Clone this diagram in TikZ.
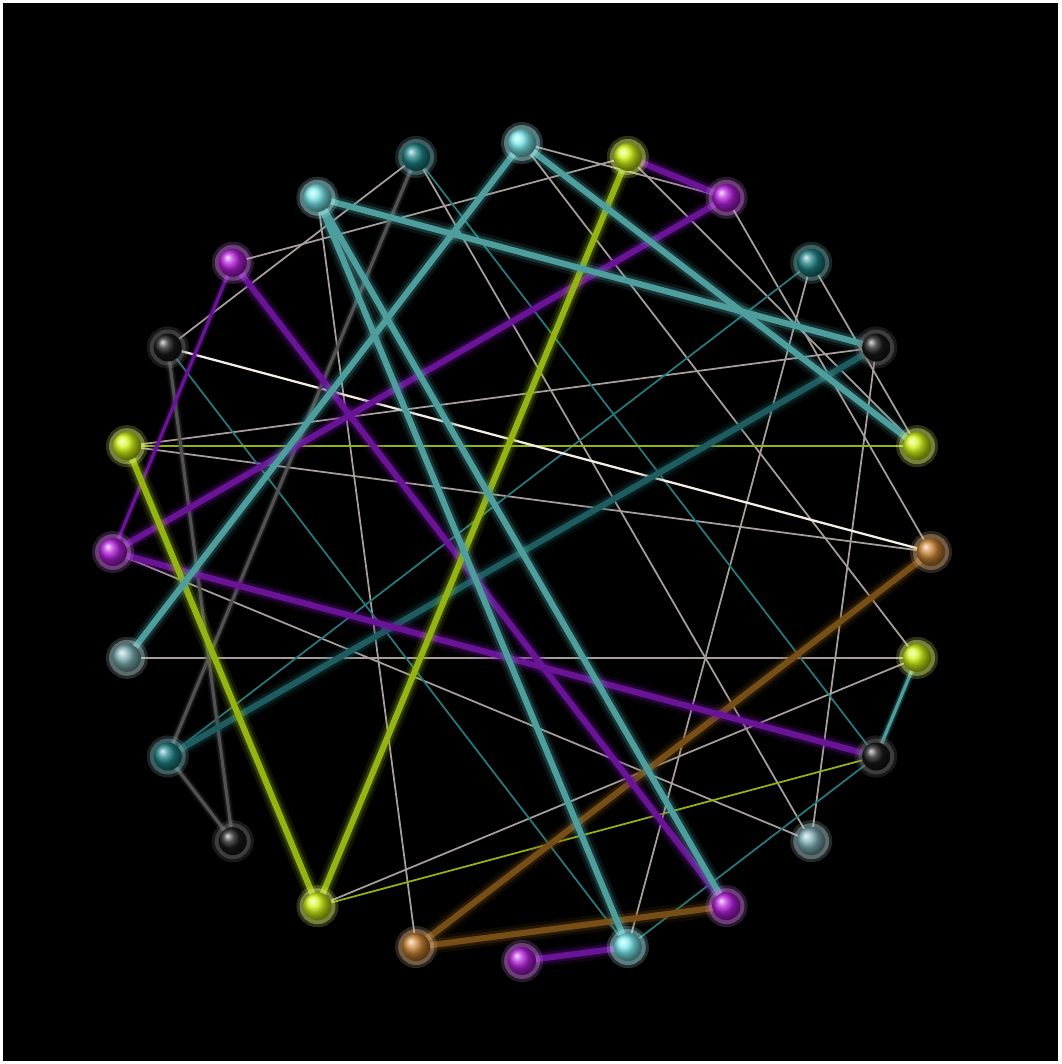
\documentclass[tikz,border=0pt]{standalone}
\usepackage{tikz}
\usetikzlibrary{arrows.meta}
\definecolor{ballcyan}{RGB}{120,232,236}
\definecolor{ballyellow}{RGB}{210,245,20}
\definecolor{ballpurple}{RGB}{180,30,220}
\definecolor{ballteal}{RGB}{30,130,135}
\definecolor{ballorange}{RGB}{200,130,50}
\definecolor{ballsteel}{RGB}{125,175,180}
\definecolor{ballblack}{RGB}{25,25,25}
\definecolor{linepurple}{RGB}{105,20,150}
\definecolor{linecyan}{RGB}{78,158,158}
\definecolor{lineteal}{RGB}{30,92,95}
\definecolor{lineyellow}{RGB}{148,180,18}
\definecolor{lineorange}{RGB}{118,78,22}
\definecolor{linegray}{RGB}{168,158,158}
\definecolor{linedim}{RGB}{82,82,82}
\definecolor{linethin}{RGB}{36,122,125}
\pgfdeclarelayer{back}
\pgfdeclarelayer{edges}
\pgfsetlayers{back,edges,main}

\begin{document}
\begin{tikzpicture}[x=0.02cm,y=0.02cm,
  sphere/.style={circle,inner sep=0pt,minimum size=0.56cm,ball color=#1,
    preaction={draw=#1!55!white,line width=8pt,draw opacity=0.2},
    preaction={draw=#1!60!white,line width=4.5pt,draw opacity=0.4}},
  glowline/.style={draw=#1,line width=3.5pt,line cap=round,
    preaction={draw=#1,line width=10pt,draw opacity=0.12},
    preaction={draw=#1,line width=6.5pt,draw opacity=0.25}},
  midline/.style={draw=#1,line width=1.8pt,line cap=round,
    preaction={draw=#1,line width=5pt,draw opacity=0.15},
    preaction={draw=#1,line width=3.2pt,draw opacity=0.25}},
  thinline/.style={draw=#1,line width=1pt}]
  \useasboundingbox (-522,-512) rectangle (539,552);
  \begin{pgfonlayer}{back}
    \fill[white] (-522,-512) rectangle (539,552);
    \fill[black] (-519,-509) rectangle (536,549);
  \end{pgfonlayer}
  \foreach \i/\c in {1/ballcyan, 2/ballyellow, 3/ballpurple, 4/ballteal,
    5/ballblack, 6/ballyellow, 7/ballorange, 8/ballyellow, 9/ballblack,
    10/ballsteel, 11/ballpurple, 12/ballcyan, 13/ballpurple, 14/ballorange,
    15/ballyellow, 16/ballblack, 17/ballteal, 18/ballsteel, 19/ballpurple,
    20/ballyellow, 21/ballblack, 22/ballpurple, 23/ballcyan, 24/ballteal}
    {\node[sphere=\c] (v\i) at ({90-15*(\i-1)}:409) {};}
  \begin{pgfonlayer}{edges}
    \foreach \a/\b in {v22/v2, v21/v24, v23/v14, v1/v3, v1/v8, v2/v6,
      v3/v7, v4/v6, v4/v12, v5/v10, v20/v5, v20/v7, v18/v8, v19/v10,
      v15/v8, v24/v10}
      {\draw[thinline=linegray] (\a) -- (\b);}
    \foreach \a/\b in {v4/v17, v21/v12, v24/v9, v9/v12}
      {\draw[thinline=linethin] (\a) -- (\b);}
    \foreach \a/\b in {v20/v6, v15/v9}
      {\draw[thinline=lineyellow] (\a) -- (\b);}
    \draw[thinline=white!85!brown,line width=1.3pt] (v21) -- (v7);
    \foreach \a/\b in {v24/v17, v21/v16, v16/v17}
      {\draw[midline=linedim] (\a) -- (\b);}
    \draw[midline=linepurple] (v22) -- (v19);
    \draw[midline=linecyan] (v8) -- (v9);
    \foreach \a/\b in {v7/v14, v14/v11}
      {\draw[glowline=lineorange] (\a) -- (\b);}
    \draw[glowline=lineteal] (v5) -- (v17);
    \foreach \a/\b in {v2/v3, v3/v19, v19/v9, v22/v11, v13/v12}
      {\draw[glowline=linepurple] (\a) -- (\b);}
    \foreach \a/\b in {v2/v15, v20/v15}
      {\draw[glowline=lineyellow] (\a) -- (\b);}
    \foreach \a/\b in {v1/v18, v1/v6, v23/v5, v23/v12, v23/v11}
      {\draw[glowline=linecyan] (\a) -- (\b);}
  \end{pgfonlayer}
\end{tikzpicture}
\end{document}
